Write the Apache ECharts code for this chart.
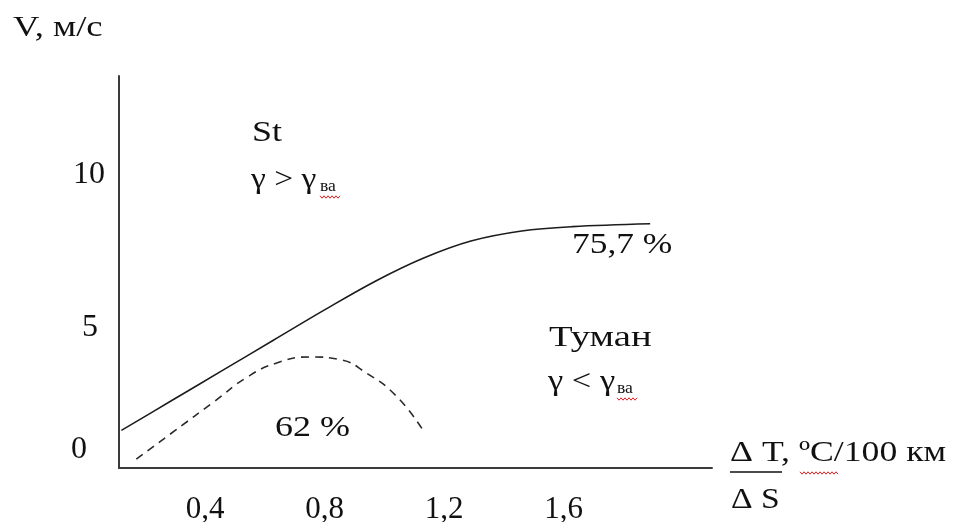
<!DOCTYPE html>
<html>
<head>
<meta charset="utf-8">
<script src="https://cdn.jsdelivr.net/npm/echarts@6/dist/echarts.min.js"></script>
<style>
  html, body { margin: 0; padding: 0; background: #fff; }
  #chart { width: 957px; height: 522px; }
</style>
</head>
<body>
<div id="chart"></div>
<script>
// Gradient ΔT/ΔS (°C/100 км) and wind speed V (м/с)
const xTicks = [0.4, 0.8, 1.2, 1.6];
const yTicks = [0, 5, 10];

// Upper boundary (St / туман), 75,7 %
const stBoundary = [
  [0.12, 1.1], [0.29, 2.15], [0.46, 3.2], [0.63, 4.25], [0.80, 5.3],
  [0.97, 6.3], [1.13, 7.1], [1.29, 7.7], [1.46, 8.05], [1.63, 8.2],
  [1.89, 8.3]
];
// Lower boundary, 62 %
const fogBoundary = [
  [0.17, 0.1], [0.30, 1.1], [0.43, 2.1], [0.54, 2.95], [0.64, 3.45],
  [0.75, 3.66], [0.85, 3.57], [0.94, 3.1], [1.04, 2.3], [1.13, 1.1]
];

const FONT = '"Liberation Serif", "Times New Roman", serif';
const FS = 30;

const chart = echarts.init(document.getElementById('chart'), null, { renderer: 'canvas' });

// left-anchored text, stretched horizontally by sx
function txt(x, y, s, sx, size) {
  return {
    type: 'text', x: x, y: y, scaleX: sx || 1, silent: true,
    style: { text: s, font: (size || FS) + 'px ' + FONT, fill: '#111',
             align: 'left', verticalAlign: 'middle' }
  };
}
// spell-check style red squiggle
function wave(x0, x1, y) {
  const pts = [];
  let up = true;
  for (let x = x0; x <= x1; x += 2) { pts.push([x, y + (up ? -1.2 : 1.2)]); up = !up; }
  return { type: 'polyline', silent: true, shape: { points: pts },
           style: { stroke: '#e02020', lineWidth: 1, fill: null } };
}

chart.setOption({
  animation: false,
  backgroundColor: '#fff',
  grid: { left: 119, top: 76, width: 593, height: 392, containLabel: false, outerBoundsMode: 'none' },
  xAxis: {
    type: 'value', min: 0.112, max: 2.097,
    axisLine: { show: true, onZero: false, lineStyle: { color: '#3a3a3a', width: 2 } },
    axisTick: { show: false },
    splitLine: { show: false },
    axisLabel: {
      customValues: xTicks, margin: 26,
      fontFamily: FONT, fontSize: 31, color: '#111',
      formatter: v => String(v).replace('.', ',')
    }
  },
  yAxis: {
    type: 'value', min: -0.209, max: 13.45,
    axisLine: { show: true, onZero: false, lineStyle: { color: '#3a3a3a', width: 2 } },
    axisTick: { show: false },
    splitLine: { show: false },
    axisLabel: {
      customValues: yTicks, margin: 14,
      fontFamily: FONT, fontSize: 31, color: '#111',
      formatter: v => (v === 10 ? '{a|10}' : v === 5 ? '{b|5}' : '{c|0}'),
      rich: {
        a: { fontFamily: FONT, fontSize: 32, color: '#111' },
        b: { fontFamily: FONT, fontSize: 32, color: '#111', padding: [19, 7, 0, 0] },
        c: { fontFamily: FONT, fontSize: 32, color: '#111', padding: [0, 18, 24, 0] }
      }
    }
  },
  series: [
    {
      type: 'line', data: stBoundary, smooth: 0.35, showSymbol: false,
      lineStyle: { color: '#1c1c1c', width: 1.6 }
    },
    {
      type: 'line', data: fogBoundary, smooth: 0.5, showSymbol: false,
      lineStyle: { color: '#2a2a2a', width: 1.6, type: [8, 6] }
    }
  ],
  graphic: [
    txt(13, 28, 'V, м/с', 1.22),
    txt(252, 133, 'St', 1.2),
    txt(251, 180, 'γ > γ', 1.12),
    txt(320, 187, 'ва', 1.1, 16),
    wave(320, 340, 197),
    txt(549, 338, 'Туман', 1.29),
    txt(548, 382, 'γ < γ', 1.15),
    txt(617, 389, 'ва', 1.1, 16),
    wave(617, 637, 399),
    txt(572, 245, '75,7 %', 1.18),
    txt(275, 428, '62 %', 1.2),
    txt(730, 453, 'Δ T, ºC/100 км', 1.19),
    { type: 'line', silent: true, shape: { x1: 730, y1: 472, x2: 782, y2: 472 },
      style: { stroke: '#111', lineWidth: 1.5 } },
    wave(800, 838, 473),
    txt(731, 500, 'Δ S', 1.12)
  ]
});
</script>
</body>
</html>
